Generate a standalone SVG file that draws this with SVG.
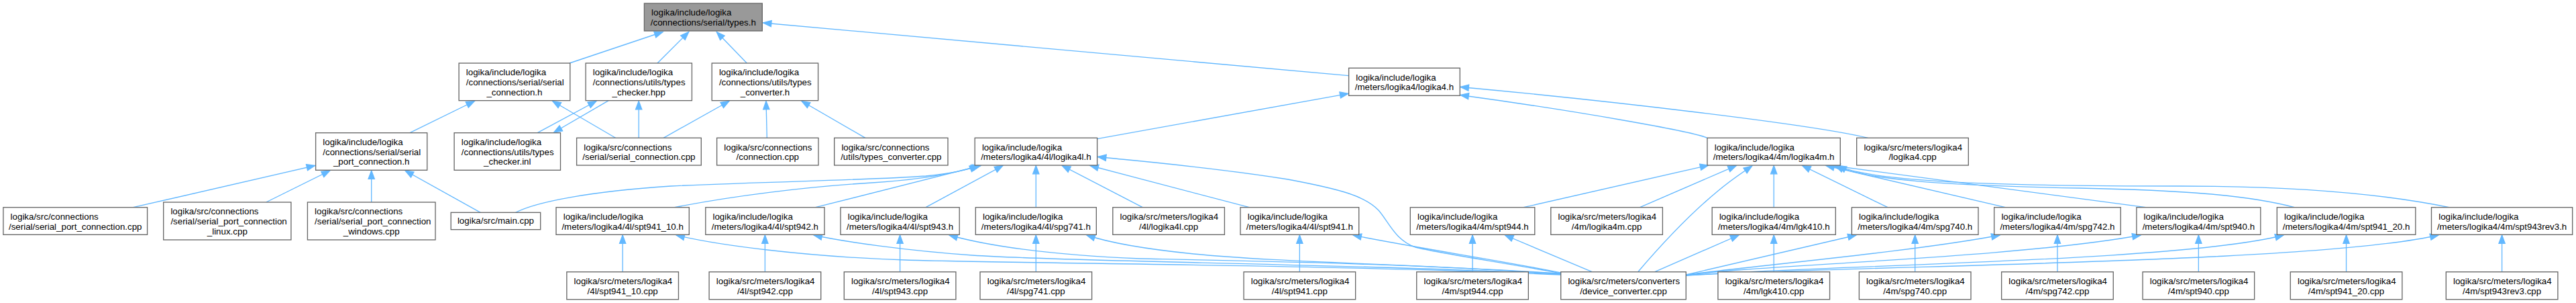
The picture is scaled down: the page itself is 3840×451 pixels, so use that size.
<svg xmlns="http://www.w3.org/2000/svg" width="3840" height="451" viewBox="0 0 3840 451">
<defs>
<style>
.n rect{fill:#fff;stroke:#666;stroke-width:1.33}
.root rect{fill:#999}
text{font-family:"Liberation Sans",Arial,Helvetica,sans-serif;font-size:13.33px;fill:#000}
.m{text-anchor:middle}
.e path{fill:none;stroke:#63b8ff;stroke-width:1.33;marker-end:url(#ah)}
</style>
<marker id="ah" viewBox="0 0 14 10" refX="13" refY="5" markerWidth="14" markerHeight="10" markerUnits="userSpaceOnUse" orient="auto" overflow="visible">
<path d="M0.7,0.4 L13,5 L0.7,9.6 z" fill="#63b8ff" stroke="#63b8ff" stroke-width="1.33"/>
</marker>
</defs>
<rect x="0" y="0" width="3840" height="451" fill="#fff"/>

<g id="edges" class="e">
<path d="M849,94 L988,47.5"/>
<path d="M980,94 L1026.7,47.5"/>
<path d="M1113.3,94 L1068.3,47.5"/>
<path d="M2010.6,112.7 L1137.5,34"/>
<path d="M611,197.7 L707.3,150.5"/>
<path d="M917.6,205.3 L823.7,150.5"/>
<path d="M952.2,205.3 L952.2,150.5"/>
<path d="M989,205.3 L1087,150.5"/>
<path d="M801.2,197.7 L889,150.5"/>
<path d="M907.3,149.7 L825.7,197"/>
<path d="M1143.3,205.3 L1142,150.5"/>
<path d="M1290,205.3 L1195,150.5"/>
<path d="M1635.5,206.7 L2009.8,139.3"/>
<path d="M2784.5,205.3 C2700,185 2400,150 2177,129.5"/>
<path d="M2545,205.3 C2525,196 2350,165 2177,141.5"/>
<path d="M198.4,308.7 L469.5,246.5"/>
<path d="M396.7,301 L491.8,254"/>
<path d="M553.7,301 L553.7,254"/>
<path d="M716.3,316.3 L604,254"/>
<path d="M768.6,316.3 C800,300 880,285 1000,277 C1150,270 1300,268 1380,262 C1420,258 1445,252 1458,246.5"/>
<path d="M1005.3,308.7 C1090,292 1200,278 1300,272 C1380,267 1430,256 1460,246.5"/>
<path d="M1215.5,308.7 L1462,246.5"/>
<path d="M1380,308.7 L1495,246.5"/>
<path d="M1544.3,308.7 L1544.3,246.5"/>
<path d="M1703.3,308.7 L1583.3,246.5"/>
<path d="M1862.4,308.7 L1625,246.5"/>
<path d="M2327,407 C2250,392 2150,378 2110,368 C2080,358 2070,330 2055,313 C2035,292 2000,282 1920,267 C1800,248 1700,240 1636.5,233.5"/>
<path d="M2327,409 C2000,394 1500,392 1350,387 C1200,382 1070,365 1008,350"/>
<path d="M2327,408 C2000,392 1600,390 1450,380 C1350,373 1260,360 1213,350"/>
<path d="M2327,408 C2100,392 1850,388 1700,385 C1580,380 1480,368 1415,350"/>
<path d="M2327,407 C2100,393 1900,390 1780,378 C1700,370 1650,360 1620,350"/>
<path d="M2327,406 C2250,390 2100,367 2017,350"/>
<path d="M2373.3,404.7 L2243.5,350"/>
<path d="M2441.7,404.7 C2480,360 2520,318 2560,285 C2580,268 2600,255 2611.7,247"/>
<path d="M2444.5,308.7 L2588.3,246.5"/>
<path d="M2271,308.7 L2546.7,246"/>
<path d="M2466.7,404.7 L2592,350"/>
<path d="M2513.3,409 L2767,350"/>
<path d="M2513.3,409 C2600,397 2850,375 2981,350"/>
<path d="M2513.3,410 C2600,395 3000,385 3191,350"/>
<path d="M2513.3,410 C2700,395 3250,390 3404,350"/>
<path d="M2513.3,410 C2800,394 3450,392 3635,350"/>
<path d="M2644.25,308.7 L2644.25,246.5"/>
<path d="M2814,308.7 L2686.7,246.5"/>
<path d="M2989.4,308.7 L2722,246.5"/>
<path d="M3198.8,308.7 L2731,246.5"/>
<path d="M3420.4,308.7 C3350,290 3250,283 3100,280 C2900,276 2780,268 2736,246.5"/>
<path d="M3651,308.7 C3550,288 3420,277 3250,277 C3000,277 2790,272 2740,246.5"/>
<path d="M928.15,404.7 L928.15,350"/>
<path d="M1140.4,404.7 L1140.4,350"/>
<path d="M1341.6,404.7 L1341.6,350"/>
<path d="M1544.3,404.7 L1544.3,350"/>
<path d="M1937.35,404.7 L1937.35,350"/>
<path d="M2195.05,404.7 L2195.05,350"/>
<path d="M2644.25,404.7 L2644.25,350"/>
<path d="M2854.7,404.7 L2854.7,350"/>
<path d="M3066.95,404.7 L3066.95,350"/>
<path d="M3277.35,404.7 L3277.35,350"/>
<path d="M3497.55,404.7 L3497.55,350"/>
<path d="M3729.6,404.7 L3729.6,350"/>
</g>

<g id="n_types" class="n root"><rect x="960.4" y="5" width="175.9" height="41"/><text x="971.1" y="23.3">logika/include/logika</text><text class="m" x="1048.35" y="38">/connections/serial/types.h</text></g>

<g id="n_serial_connection_h" class="n"><rect x="684.1" y="94" width="165.7" height="55.7"/><text x="694.8" y="112.3">logika/include/logika</text><text x="694.8" y="127">/connections/serial/serial</text><text class="m" x="766.95" y="141.6">_connection.h</text></g>
<g id="n_types_checker_hpp" class="n"><rect x="873.1" y="94" width="158.3" height="55.7"/><text x="883.8" y="112.3">logika/include/logika</text><text x="883.8" y="127">/connections/utils/types</text><text class="m" x="952.25" y="141.6">_checker.hpp</text></g>
<g id="n_types_converter_h" class="n"><rect x="1061.2" y="94" width="158.4" height="55.7"/><text x="1071.9" y="112.3">logika/include/logika</text><text x="1071.9" y="127">/connections/utils/types</text><text class="m" x="1140.4" y="141.6">_converter.h</text></g>
<g id="n_logika4_h" class="n"><rect x="2010.6" y="101.3" width="165.7" height="41"/><text x="2021.3" y="119.6">logika/include/logika</text><text class="m" x="2093.45" y="134.3">/meters/logika4/logika4.h</text></g>

<g id="n_serial_port_connection_h" class="n"><rect x="470.6" y="197.7" width="166.1" height="55.6"/><text x="481.3" y="216">logika/include/logika</text><text x="481.3" y="230.7">/connections/serial/serial</text><text class="m" x="553.65" y="245.3">_port_connection.h</text></g>
<g id="n_types_checker_inl" class="n"><rect x="677.1" y="197.7" width="158.4" height="55.6"/><text x="687.8" y="216">logika/include/logika</text><text x="687.8" y="230.7">/connections/utils/types</text><text class="m" x="756.3" y="245.3">_checker.inl</text></g>
<g id="n_serial_connection_cpp" class="n"><rect x="859.6" y="205.3" width="185.7" height="40.7"/><text x="870.3" y="223.6">logika/src/connections</text><text class="m" x="952.45" y="238.3">/serial/serial_connection.cpp</text></g>
<g id="n_connection_cpp" class="n"><rect x="1068.6" y="205.3" width="151.4" height="40.7"/><text x="1079.3" y="223.6">logika/src/connections</text><text class="m" x="1144.3" y="238.3">/connection.cpp</text></g>
<g id="n_types_converter_cpp" class="n"><rect x="1243.7" y="205.3" width="169.3" height="40.7"/><text x="1254.4" y="223.6">logika/src/connections</text><text class="m" x="1328.35" y="238.3">/utils/types_converter.cpp</text></g>
<g id="n_logika4l_h" class="n"><rect x="1453.2" y="205.3" width="182.4" height="40.7"/><text x="1463.9" y="223.6">logika/include/logika</text><text class="m" x="1544.4" y="238.3">/meters/logika4/4l/logika4l.h</text></g>
<g id="n_logika4m_h" class="n"><rect x="2545" y="205.3" width="198.3" height="40.7"/><text x="2555.7" y="223.6">logika/include/logika</text><text class="m" x="2644.15" y="238.3">/meters/logika4/4m/logika4m.h</text></g>
<g id="n_logika4_cpp" class="n"><rect x="2767.7" y="205.3" width="166.6" height="40.7"/><text x="2778.4" y="223.6">logika/src/meters/logika4</text><text class="m" x="2851" y="238.3">/logika4.cpp</text></g>

<g id="n_serial_port_connection_cpp" class="n"><rect x="4.9" y="308.7" width="214.7" height="40.6"/><text x="15.6" y="327">logika/src/connections</text><text class="m" x="112.25" y="341.7">/serial/serial_port_connection.cpp</text></g>
<g id="n_serial_port_connection_linux_cpp" class="n"><rect x="243.7" y="301" width="190.2" height="56"/><text x="254.4" y="319.3">logika/src/connections</text><text x="254.4" y="334">/serial/serial_port_connection</text><text class="m" x="338.8" y="348.6">_linux.cpp</text></g>
<g id="n_serial_port_connection_windows_cpp" class="n"><rect x="458.4" y="301" width="190.6" height="56"/><text x="469.1" y="319.3">logika/src/connections</text><text x="469.1" y="334">/serial/serial_port_connection</text><text class="m" x="553.7" y="348.6">_windows.cpp</text></g>
<g id="n_main_cpp" class="n"><rect x="672.2" y="316.3" width="133.5" height="25.4"/><text class="m" x="738.95" y="333.4">logika/src/main.cpp</text></g>
<g id="n_spt941_10_h" class="n"><rect x="829" y="308.7" width="198.3" height="40.6"/><text x="839.7" y="327">logika/include/logika</text><text class="m" x="928.15" y="341.7">/meters/logika4/4l/spt941_10.h</text></g>
<g id="n_spt942_h" class="n"><rect x="1051.8" y="308.7" width="177.2" height="40.6"/><text x="1062.5" y="327">logika/include/logika</text><text class="m" x="1140.4" y="341.7">/meters/logika4/4l/spt942.h</text></g>
<g id="n_spt943_h" class="n"><rect x="1253" y="308.7" width="177.2" height="40.6"/><text x="1263.7" y="327">logika/include/logika</text><text class="m" x="1341.6" y="341.7">/meters/logika4/4l/spt943.h</text></g>
<g id="n_spg741_h" class="n"><rect x="1454.3" y="308.7" width="180" height="40.6"/><text x="1465" y="327">logika/include/logika</text><text class="m" x="1544.3" y="341.7">/meters/logika4/4l/spg741.h</text></g>
<g id="n_logika4l_cpp" class="n"><rect x="1658.8" y="308.7" width="166.6" height="40.6"/><text x="1669.5" y="327">logika/src/meters/logika4</text><text class="m" x="1742.1" y="341.7">/4l/logika4l.cpp</text></g>
<g id="n_spt941_h" class="n"><rect x="1849" y="308.7" width="176.7" height="40.6"/><text x="1859.7" y="327">logika/include/logika</text><text class="m" x="1937.35" y="341.7">/meters/logika4/4l/spt941.h</text></g>
<g id="n_spt944_h" class="n"><rect x="2102.3" y="308.7" width="185.5" height="40.6"/><text x="2113" y="327">logika/include/logika</text><text class="m" x="2195.05" y="341.7">/meters/logika4/4m/spt944.h</text></g>
<g id="n_logika4m_cpp" class="n"><rect x="2311.8" y="308.7" width="166.6" height="40.6"/><text x="2322.5" y="327">logika/src/meters/logika4</text><text class="m" x="2395.1" y="341.7">/4m/logika4m.cpp</text></g>
<g id="n_lgk410_h" class="n"><rect x="2552.2" y="308.7" width="184.1" height="40.6"/><text x="2562.9" y="327">logika/include/logika</text><text class="m" x="2644.25" y="341.7">/meters/logika4/4m/lgk410.h</text></g>
<g id="n_spg740_h" class="n"><rect x="2760.4" y="308.7" width="188.6" height="40.6"/><text x="2771.1" y="327">logika/include/logika</text><text class="m" x="2854.7" y="341.7">/meters/logika4/4m/spg740.h</text></g>
<g id="n_spg742_h" class="n"><rect x="2972.7" y="308.7" width="188.5" height="40.6"/><text x="2983.4" y="327">logika/include/logika</text><text class="m" x="3066.95" y="341.7">/meters/logika4/4m/spg742.h</text></g>
<g id="n_spt940_h" class="n"><rect x="3184.9" y="308.7" width="184.9" height="40.6"/><text x="3195.6" y="327">logika/include/logika</text><text class="m" x="3277.35" y="341.7">/meters/logika4/4m/spt940.h</text></g>
<g id="n_spt941_20_h" class="n"><rect x="3394.3" y="308.7" width="206.5" height="40.6"/><text x="3405" y="327">logika/include/logika</text><text class="m" x="3497.55" y="341.7">/meters/logika4/4m/spt941_20.h</text></g>
<g id="n_spt943rev3_h" class="n"><rect x="3624.5" y="308.7" width="210.2" height="40.6"/><text x="3635.2" y="327">logika/include/logika</text><text class="m" x="3729.6" y="341.7">/meters/logika4/4m/spt943rev3.h</text></g>

<g id="n_spt941_10_cpp" class="n"><rect x="844.85" y="404.7" width="166.6" height="41"/><text x="855.55" y="423">logika/src/meters/logika4</text><text class="m" x="928.15" y="437.7">/4l/spt941_10.cpp</text></g>
<g id="n_spt942_cpp" class="n"><rect x="1057.1" y="404.7" width="166.6" height="41"/><text x="1067.8" y="423">logika/src/meters/logika4</text><text class="m" x="1140.4" y="437.7">/4l/spt942.cpp</text></g>
<g id="n_spt943_cpp" class="n"><rect x="1258.3" y="404.7" width="166.6" height="41"/><text x="1269" y="423">logika/src/meters/logika4</text><text class="m" x="1341.6" y="437.7">/4l/spt943.cpp</text></g>
<g id="n_spg741_cpp" class="n"><rect x="1461" y="404.7" width="166.6" height="41"/><text x="1471.7" y="423">logika/src/meters/logika4</text><text class="m" x="1544.3" y="437.7">/4l/spg741.cpp</text></g>
<g id="n_spt941_cpp" class="n"><rect x="1854.05" y="404.7" width="166.6" height="41"/><text x="1864.75" y="423">logika/src/meters/logika4</text><text class="m" x="1937.35" y="437.7">/4l/spt941.cpp</text></g>
<g id="n_spt944_cpp" class="n"><rect x="2111.75" y="404.7" width="166.6" height="41"/><text x="2122.45" y="423">logika/src/meters/logika4</text><text class="m" x="2195.05" y="437.7">/4m/spt944.cpp</text></g>
<g id="n_device_converter_cpp" class="n"><rect x="2326.7" y="404.7" width="186.6" height="41"/><text x="2337.4" y="423">logika/src/meters/converters</text><text class="m" x="2420" y="437.7">/device_converter.cpp</text></g>
<g id="n_lgk410_cpp" class="n"><rect x="2560.95" y="404.7" width="166.6" height="41"/><text x="2571.65" y="423">logika/src/meters/logika4</text><text class="m" x="2644.25" y="437.7">/4m/lgk410.cpp</text></g>
<g id="n_spg740_cpp" class="n"><rect x="2771.4" y="404.7" width="166.6" height="41"/><text x="2782.1" y="423">logika/src/meters/logika4</text><text class="m" x="2854.7" y="437.7">/4m/spg740.cpp</text></g>
<g id="n_spg742_cpp" class="n"><rect x="2983.65" y="404.7" width="166.6" height="41"/><text x="2994.35" y="423">logika/src/meters/logika4</text><text class="m" x="3066.95" y="437.7">/4m/spg742.cpp</text></g>
<g id="n_spt940_cpp" class="n"><rect x="3194.05" y="404.7" width="166.6" height="41"/><text x="3204.75" y="423">logika/src/meters/logika4</text><text class="m" x="3277.35" y="437.7">/4m/spt940.cpp</text></g>
<g id="n_spt941_20_cpp" class="n"><rect x="3414.25" y="404.7" width="166.6" height="41"/><text x="3424.95" y="423">logika/src/meters/logika4</text><text class="m" x="3497.55" y="437.7">/4m/spt941_20.cpp</text></g>
<g id="n_spt943rev3_cpp" class="n"><rect x="3646.3" y="404.7" width="166.6" height="41"/><text x="3657" y="423">logika/src/meters/logika4</text><text class="m" x="3729.6" y="437.7">/4m/spt943rev3.cpp</text></g>
</svg>
